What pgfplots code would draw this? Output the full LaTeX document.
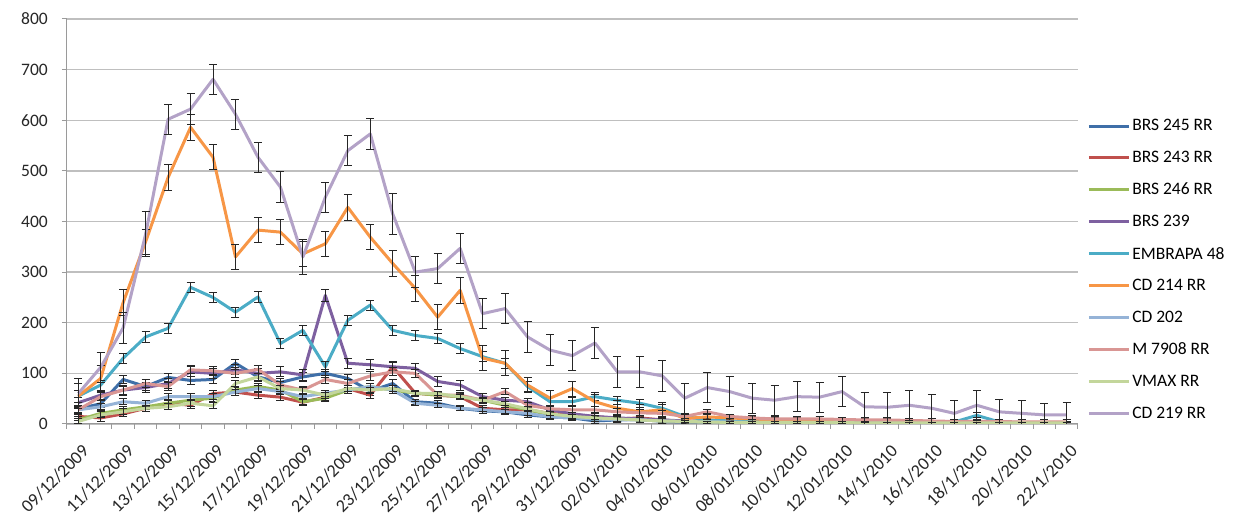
\documentclass[border=0pt]{standalone}
\usepackage{fontspec}
\setmainfont{Carlito}
\usepackage{pgfplots}
\usepackage{pgfplotstable}
\pgfplotsset{compat=1.18}
\definecolor{cA}{HTML}{3F6FA8}
\definecolor{cB}{HTML}{C0504D}
\definecolor{cC}{HTML}{9BBB59}
\definecolor{cD}{HTML}{7E60A0}
\definecolor{cE}{HTML}{4BACC6}
\definecolor{cF}{HTML}{F79646}
\definecolor{cG}{HTML}{95B3D7}
\definecolor{cH}{HTML}{D99694}
\definecolor{cI}{HTML}{C3D69B}
\definecolor{cJ}{HTML}{B3A2C7}
\definecolor{gridgray}{HTML}{BFBFBF}
\definecolor{axgray}{HTML}{9A9A9A}
\pgfplotsset{eb/.style={error bars/.cd, y dir=both, y explicit,
  error bar style={black!85, line width=0.9pt},
  error mark options={rotate=90, black!85, mark size=4pt, line width=0.9pt}}}
\pgfplotstableread{
x a ae b be c ce d de e ee f fe g ge h he i ie j je
0 30 12 15 8 8 6 42 10 55 12 55 25 28 6 28 8 5 6 60 30
1 40 8 12 6 21 6 57 10 77 10 90 25 34 6 54 8 18 6 112 30
2 88 8 20 6 28 6 67 10 130 10 240 25 44 6 67 8 24 6 190 30
3 74 8 31 6 34 6 72 10 172 10 360 25 41 6 80 8 31 6 375 45
4 92 8 41 6 41 6 80 10 189 10 487 25 54 6 74 8 34 6 602 30
5 86 8 37 6 47 6 103 10 270 10 586 25 54 6 107 8 41 6 622 30
6 88 8 60 6 51 6 100 10 250 10 527 25 54 6 105 8 36 6 681 30
7 120 8 63 6 67 6 107 10 221 10 330 25 63 6 100 8 80 6 612 30
8 93 8 57 6 74 6 100 10 251 10 383 25 70 6 108 8 93 6 527 30
9 82 8 53 6 67 6 103 10 159 10 379 25 64 6 77 8 70 6 468 30
10 93 8 43 6 44 6 97 10 185 10 336 25 54 6 67 8 67 6 330 35
11 100 8 53 6 51 6 254 12 113 10 356 25 61 6 88 8 57 6 448 30
12 90 8 70 6 67 6 120 10 205 10 428 25 67 6 80 8 70 6 540 30
13 65 8 57 6 74 6 117 10 235 10 369 25 74 6 95 8 67 6 573 30
14 80 8 113 8 67 6 113 10 185 10 317 25 67 6 103 8 70 6 415 40
15 44 5 61 6 61 4 110 10 175 10 268 25 41 4 100 8 61 4 300 30
16 41 5 57 6 57 4 84 10 169 10 211 25 37 4 57 6 60 4 307 30
17 31 5 54 6 54 4 77 10 149 10 264 25 31 4 57 6 54 4 347 30
18 26 5 31 5 47 4 54 6 133 10 130 25 28 4 47 6 47 4 218 30
19 24 5 28 5 37 4 47 6 120 10 120 25 24 4 64 6 40 4 228 30
20 18 5 28 5 28 4 44 6 74 10 77 15 21 4 37 6 30 4 172 30
21 14 5 21 5 18 4 28 6 44 8 51 15 14 4 30 6 20 4 146 30
22 12 5 18 5 14 4 20 6 44 8 70 15 12 4 28 6 15 4 135 30
23 6 5 15 5 10 4 15 6 54 8 44 15 10 4 28 6 12 4 160 30
24 8 5 10 5 10 4 12 6 47 8 31 15 8 4 24 6 10 4 103 30
25 10 5 12 5 8 4 10 6 41 8 24 15 8 4 22 6 8 4 103 30
26 5 5 8 5 6 4 8 6 31 8 28 15 6 4 21 6 6 4 95 30
27 4 3 5 3 5 2 6 3 15 5 11 8 5 2 15 4 5 2 51 30
28 4 3 5 3 4 2 5 3 8 3 14 5 4 2 24 4 4 2 72 30
29 3 3 4 3 4 2 5 3 6 3 12 5 4 2 15 4 3 2 64 30
30 3 3 4 3 3 2 4 3 5 3 10 5 3 2 12 4 3 2 51 30
31 3 3 4 3 3 2 4 3 5 3 8 5 3 2 10 4 3 2 47 30
32 2 3 3 3 3 2 4 3 4 3 8 5 3 2 10 4 3 2 54 30
33 3 3 4 3 3 2 4 3 4 3 9 5 3 2 10 4 3 2 53 30
34 3 3 3 3 3 2 3 3 4 3 8 5 3 2 9 4 3 2 64 30
35 2 3 3 3 2 2 3 3 3 3 6 5 2 2 8 4 2 2 34 28
36 2 3 3 3 2 2 3 3 3 3 5 5 2 2 8 4 2 2 33 30
37 2 3 3 3 2 2 3 3 3 3 5 5 2 2 7 4 2 2 37 30
38 2 3 2 3 2 2 3 3 3 3 5 5 2 2 6 4 2 2 31 28
39 2 3 2 3 2 2 2 3 4 3 4 5 2 2 5 4 2 2 21 25
40 3 3 2 3 2 2 2 3 17 5 4 5 2 2 5 4 2 2 37 30
41 2 3 2 3 2 2 2 3 4 3 3 5 2 2 5 4 2 2 24 25
42 2 3 2 3 2 2 2 3 3 3 3 5 2 2 4 4 2 2 21 25
43 2 3 2 3 2 2 2 3 2 3 3 5 2 2 4 4 2 2 18 22
44 2 3 2 3 2 2 2 3 2 3 3 5 2 2 4 4 2 2 18 25
}\data
\begin{document}
\begin{tikzpicture}[x=1pt,y=1pt]
\path[use as bounding box] (-67,-97) rectangle (1171,424);
\begin{axis}[
  at={(0pt,0pt)}, anchor=south west,
  width=1011pt, height=405pt, scale only axis,
  xmin=-0.5, xmax=44.5, ymin=0, ymax=800,
  ytick={0,100,...,800},
  xtick={0,2,...,44},
  xticklabels={09/12/2009,11/12/2009,13/12/2009,15/12/2009,17/12/2009,19/12/2009,21/12/2009,23/12/2009,25/12/2009,27/12/2009,29/12/2009,31/12/2009,02/01/2010,04/01/2010,06/01/2010,08/01/2010,10/01/2010,12/01/2010,14/1/2010,16/1/2010,18/1/2010,20/1/2010,22/1/2010},
  minor xtick={-0.5,0.5,...,44.5},
  major x tick style={draw=none},
  axis x line*=bottom, axis y line*=left,
  axis line style={axgray, line width=1pt},
  tick align=outside,
  major tick length=5pt, minor tick length=5pt,
  tick style={axgray, line width=1pt},
  ymajorgrids, grid style={gridgray, line width=1.3pt},
  tick label style={font=\fontsize{17.5}{20}\selectfont, text=black!85},
  /pgf/number format/assume math mode=true,
  yticklabel style={anchor=east, inner sep=0pt, xshift=-14pt},
  xticklabel style={font=\fontsize{18}{20}\selectfont, rotate=45, anchor=north east, inner sep=0pt, yshift=-12pt, xshift=-8pt},
  legend style={draw=none, fill=none, anchor=north west, at={(rel axis cs:1.009,0.757)},
    font=\fontsize{17.5}{20}\selectfont, row sep=14.9pt, inner sep=0pt},
  legend cell align=left,
  legend image code/.code={\draw[#1, line width=3pt] (0pt,0pt) -- (40pt,0pt);},
  every axis plot/.append style={line join=round, mark=none},
]
\addplot[cA, line width=3pt, eb] table[x=x, y=a, y error=ae] {\data};
\addplot[cB, line width=3pt, eb] table[x=x, y=b, y error=be] {\data};
\addplot[cC, line width=3pt, eb] table[x=x, y=c, y error=ce] {\data};
\addplot[cD, line width=3pt, eb] table[x=x, y=d, y error=de] {\data};
\addplot[cE, line width=3pt, eb] table[x=x, y=e, y error=ee] {\data};
\addplot[cF, line width=3pt, eb] table[x=x, y=f, y error=fe] {\data};
\addplot[cG, line width=3pt, eb] table[x=x, y=g, y error=ge] {\data};
\addplot[cH, line width=3pt, eb] table[x=x, y=h, y error=he] {\data};
\addplot[cI, line width=3pt, eb] table[x=x, y=i, y error=ie] {\data};
\addplot[cJ, line width=3pt, eb] table[x=x, y=j, y error=je] {\data};
\legend{BRS 245 RR, BRS 243 RR, BRS 246 RR, BRS 239, EMBRAPA 48, CD 214 RR, CD 202, M 7908 RR, VMAX RR, CD 219 RR}
\end{axis}
\end{tikzpicture}
\end{document}
